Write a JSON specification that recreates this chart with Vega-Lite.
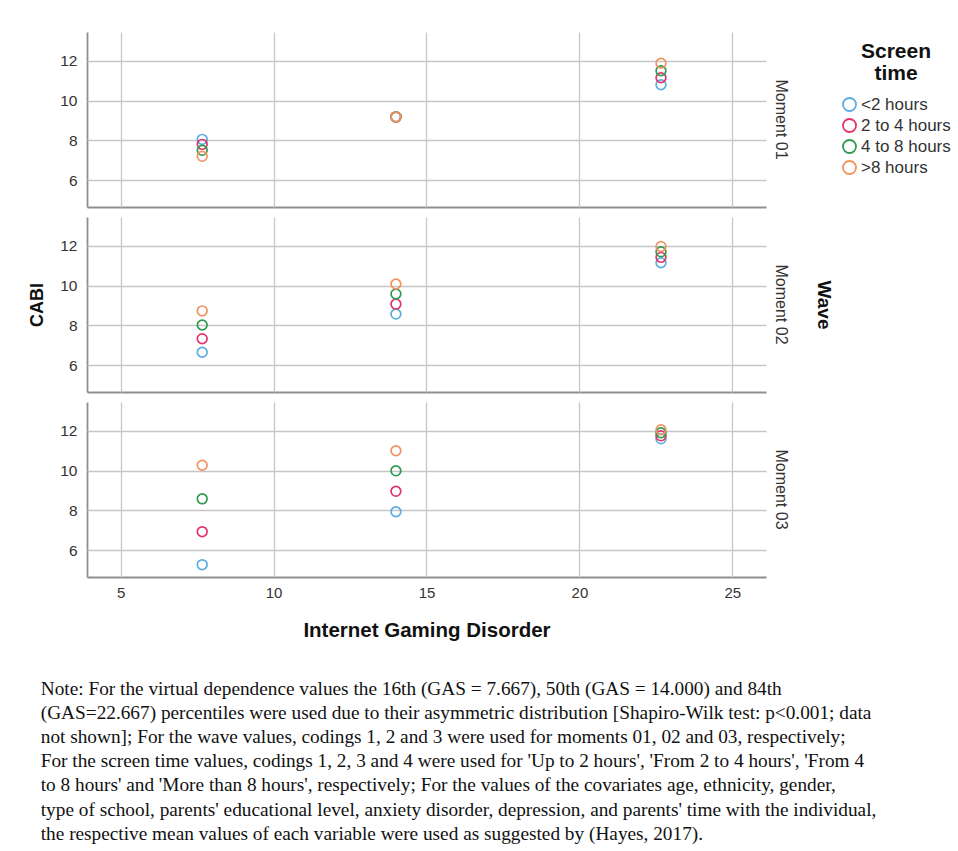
{
  "$schema": "https://vega.github.io/schema/vega-lite/v6.json",
  "padding": {"left": 28, "top": 32, "right": 3, "bottom": 5},
  "background": "white",
  "data": {"values": [
    {"wave": "Moment 01", "gas": 7.667, "st": "<2 hours", "cabi": 8.05},
    {"wave": "Moment 01", "gas": 7.667, "st": "2 to 4 hours", "cabi": 7.8},
    {"wave": "Moment 01", "gas": 7.667, "st": "4 to 8 hours", "cabi": 7.5},
    {"wave": "Moment 01", "gas": 7.667, "st": ">8 hours", "cabi": 7.2},
    {"wave": "Moment 01", "gas": 14.0, "st": "<2 hours", "cabi": 9.18},
    {"wave": "Moment 01", "gas": 14.0, "st": "2 to 4 hours", "cabi": 9.18},
    {"wave": "Moment 01", "gas": 14.0, "st": "4 to 8 hours", "cabi": 9.18},
    {"wave": "Moment 01", "gas": 14.0, "st": ">8 hours", "cabi": 9.18},
    {"wave": "Moment 01", "gas": 22.667, "st": "<2 hours", "cabi": 10.8},
    {"wave": "Moment 01", "gas": 22.667, "st": "2 to 4 hours", "cabi": 11.15},
    {"wave": "Moment 01", "gas": 22.667, "st": "4 to 8 hours", "cabi": 11.5},
    {"wave": "Moment 01", "gas": 22.667, "st": ">8 hours", "cabi": 11.88},
    {"wave": "Moment 02", "gas": 7.667, "st": "<2 hours", "cabi": 6.65},
    {"wave": "Moment 02", "gas": 7.667, "st": "2 to 4 hours", "cabi": 7.33},
    {"wave": "Moment 02", "gas": 7.667, "st": "4 to 8 hours", "cabi": 8.02},
    {"wave": "Moment 02", "gas": 7.667, "st": ">8 hours", "cabi": 8.73},
    {"wave": "Moment 02", "gas": 14.0, "st": "<2 hours", "cabi": 8.57},
    {"wave": "Moment 02", "gas": 14.0, "st": "2 to 4 hours", "cabi": 9.07},
    {"wave": "Moment 02", "gas": 14.0, "st": "4 to 8 hours", "cabi": 9.58},
    {"wave": "Moment 02", "gas": 14.0, "st": ">8 hours", "cabi": 10.08},
    {"wave": "Moment 02", "gas": 22.667, "st": "<2 hours", "cabi": 11.15},
    {"wave": "Moment 02", "gas": 22.667, "st": "2 to 4 hours", "cabi": 11.42},
    {"wave": "Moment 02", "gas": 22.667, "st": "4 to 8 hours", "cabi": 11.7},
    {"wave": "Moment 02", "gas": 22.667, "st": ">8 hours", "cabi": 11.97},
    {"wave": "Moment 03", "gas": 7.667, "st": "<2 hours", "cabi": 5.27},
    {"wave": "Moment 03", "gas": 7.667, "st": "2 to 4 hours", "cabi": 6.93},
    {"wave": "Moment 03", "gas": 7.667, "st": "4 to 8 hours", "cabi": 8.58},
    {"wave": "Moment 03", "gas": 7.667, "st": ">8 hours", "cabi": 10.27},
    {"wave": "Moment 03", "gas": 14.0, "st": "<2 hours", "cabi": 7.93},
    {"wave": "Moment 03", "gas": 14.0, "st": "2 to 4 hours", "cabi": 8.96},
    {"wave": "Moment 03", "gas": 14.0, "st": "4 to 8 hours", "cabi": 9.99},
    {"wave": "Moment 03", "gas": 14.0, "st": ">8 hours", "cabi": 11.0},
    {"wave": "Moment 03", "gas": 22.667, "st": "<2 hours", "cabi": 11.6},
    {"wave": "Moment 03", "gas": 22.667, "st": "2 to 4 hours", "cabi": 11.75},
    {"wave": "Moment 03", "gas": 22.667, "st": "4 to 8 hours", "cabi": 11.9},
    {"wave": "Moment 03", "gas": 22.667, "st": ">8 hours", "cabi": 12.05}
  ]},
  "spacing": 10,
  "resolve": {"scale": {"color": "shared"}, "legend": {"color": "shared"}},
  "vconcat": [
    {
      "transform": [{"filter": {"field": "wave", "equal": "Moment 01"}}],
      "facet": {"row": {"field": "wave", "type": "nominal", "title": null}},
      "spec": {
        "width": 679,
        "height": 175,
        "mark": {"type": "point", "filled": false, "size": 95, "strokeWidth": 1.7, "opacity": 1},
        "encoding": {
          "x": {"field": "gas", "type": "quantitative", "scale": {"domain": [3.9, 26.1], "nice": false, "zero": false},
                "axis": {"values": [5, 10, 15, 20, 25], "labels": false, "title": null}},
          "y": {"field": "cabi", "type": "quantitative", "scale": {"domain": [4.65, 13.45], "nice": false, "zero": false},
                "axis": {"values": [6, 8, 10, 12], "title": null}},
          "color": {"field": "st", "type": "nominal",
                    "scale": {"domain": ["<2 hours", "2 to 4 hours", "4 to 8 hours", ">8 hours"],
                              "range": ["#5aaee0", "#e2336c", "#2f9a50", "#f0935f"]},
                    "legend": {"title": ["Screen", "time"]}}
        }
      }
    },
    {
      "transform": [{"filter": {"field": "wave", "equal": "Moment 02"}}],
      "facet": {"row": {"field": "wave", "type": "nominal", "title": "Wave"}},
      "spec": {
        "width": 679,
        "height": 175,
        "mark": {"type": "point", "filled": false, "size": 95, "strokeWidth": 1.7, "opacity": 1},
        "encoding": {
          "x": {"field": "gas", "type": "quantitative", "scale": {"domain": [3.9, 26.1], "nice": false, "zero": false},
                "axis": {"values": [5, 10, 15, 20, 25], "labels": false, "title": null}},
          "y": {"field": "cabi", "type": "quantitative", "scale": {"domain": [4.65, 13.45], "nice": false, "zero": false},
                "axis": {"values": [6, 8, 10, 12], "title": "CABI"}},
          "color": {"field": "st", "type": "nominal",
                    "scale": {"domain": ["<2 hours", "2 to 4 hours", "4 to 8 hours", ">8 hours"],
                              "range": ["#5aaee0", "#e2336c", "#2f9a50", "#f0935f"]},
                    "legend": {"title": ["Screen", "time"]}}
        }
      }
    },
    {
      "transform": [{"filter": {"field": "wave", "equal": "Moment 03"}}],
      "facet": {"row": {"field": "wave", "type": "nominal", "title": null}},
      "spec": {
        "width": 679,
        "height": 175,
        "mark": {"type": "point", "filled": false, "size": 95, "strokeWidth": 1.7, "opacity": 1},
        "encoding": {
          "x": {"field": "gas", "type": "quantitative", "scale": {"domain": [3.9, 26.1], "nice": false, "zero": false},
                "axis": {"values": [5, 10, 15, 20, 25], "title": "Internet Gaming Disorder"}},
          "y": {"field": "cabi", "type": "quantitative", "scale": {"domain": [4.65, 13.45], "nice": false, "zero": false},
                "axis": {"values": [6, 8, 10, 12], "title": null}},
          "color": {"field": "st", "type": "nominal",
                    "scale": {"domain": ["<2 hours", "2 to 4 hours", "4 to 8 hours", ">8 hours"],
                              "range": ["#5aaee0", "#e2336c", "#2f9a50", "#f0935f"]},
                    "legend": {"title": ["Screen", "time"]}}
        }
      }
    }
  ],
  "title": {
    "text": [
      "Note: For the virtual dependence values the 16th (GAS = 7.667), 50th (GAS = 14.000) and 84th",
      "(GAS=22.667) percentiles were used due to their asymmetric distribution [Shapiro-Wilk test: p<0.001; data",
      "not shown]; For the wave values, codings 1, 2 and 3 were used for moments 01, 02 and 03, respectively;",
      "For the screen time values, codings 1, 2, 3 and 4 were used for 'Up to 2 hours', 'From 2 to 4 hours', 'From 4",
      "to 8 hours' and 'More than 8 hours', respectively; For the values of the covariates age, ethnicity, gender,",
      "type of school, parents' educational level, anxiety disorder, depression, and parents' time with the individual,",
      "the respective mean values of each variable were used as suggested by (Hayes, 2017)."
    ],
    "orient": "bottom",
    "anchor": "start",
    "frame": "bounds",
    "dx": 12,
    "offset": 39,
    "font": "Liberation Serif",
    "fontSize": 19.3,
    "fontWeight": "normal",
    "color": "#111111",
    "lineHeight": 24.2
  },
  "config": {
    "view": {"stroke": null},
    "font": "Liberation Sans",
    "axis": {
      "ticks": false,
      "grid": true,
      "gridColor": "#c6c6c6",
      "gridWidth": 1.3,
      "domainColor": "#8f8f8f",
      "domainWidth": 1.8,
      "labelFont": "Liberation Sans",
      "labelFontSize": 15,
      "labelColor": "#333333",
      "titleFont": "Liberation Sans",
      "titleFontWeight": "bold",
      "titleColor": "#111111"
    },
    "axisX": {"labelPadding": 8, "titleFontSize": 20.5, "titlePadding": 20},
    "axisY": {"labelPadding": 10, "labelFontSize": 15.5, "titleFontSize": 18, "titlePadding": 13},
    "header": {
      "labelAngle": 90,
      "labelOrient": "right",
      "labelFont": "Liberation Sans",
      "labelFontSize": 16,
      "labelColor": "#333333",
      "labelPadding": 7,
      "titleOrient": "right",
      "titleAngle": 90,
      "titleFont": "Liberation Sans",
      "titleFontSize": 19,
      "titleFontWeight": "bold",
      "titleColor": "#111111",
      "titlePadding": 15
    },
    "legend": {
      "orient": "right",
      "offset": -1,
      "padding": 9,
      "titleFont": "Liberation Sans",
      "titleFontSize": 21,
      "titleFontWeight": "bold",
      "titleColor": "#111111",
      "titleAlign": "center",
      "titleAnchor": "middle",
      "titleLineHeight": 22,
      "titlePadding": 12,
      "labelFont": "Liberation Sans",
      "labelFontSize": 17,
      "labelColor": "#333333",
      "labelOffset": 3,
      "symbolType": "circle",
      "symbolSize": 170,
      "symbolStrokeWidth": 1.8,
      "rowPadding": 0
    }
  }
}
